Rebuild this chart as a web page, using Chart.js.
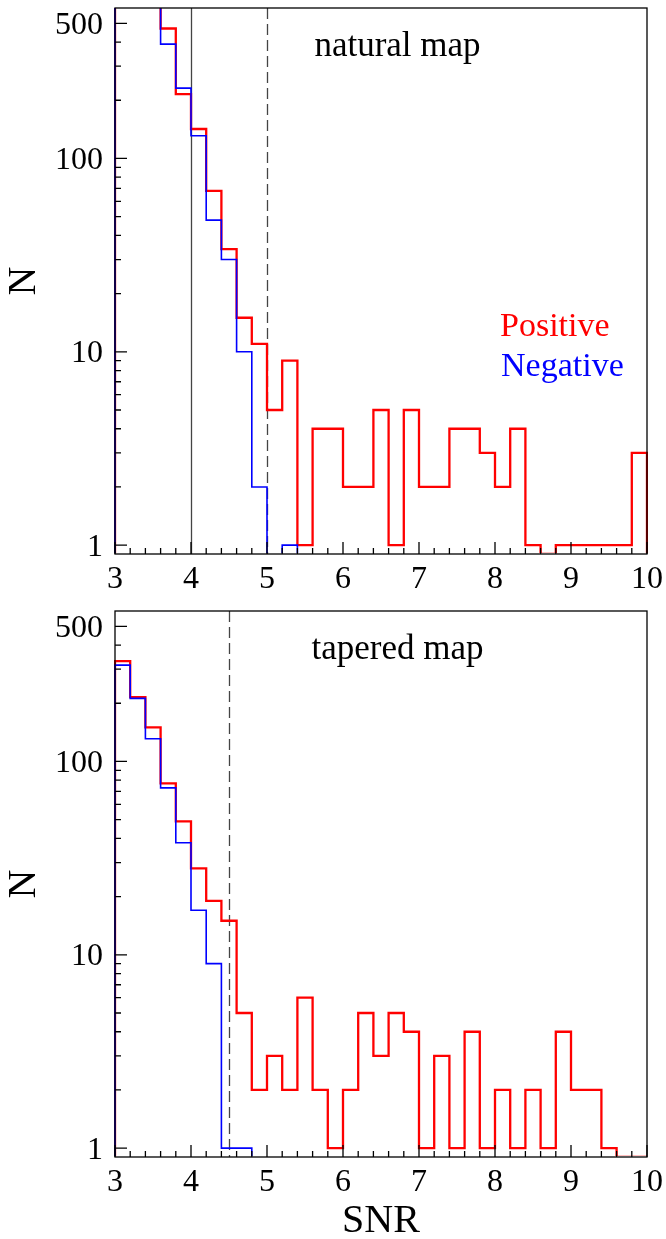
<!DOCTYPE html>
<html><head><meta charset="utf-8">
<script src="https://cdn.jsdelivr.net/npm/chart.js@4.4.1/dist/chart.umd.min.js"></script>
<style>
html,body{margin:0;padding:0;background:#fff;width:666px;height:1239px;overflow:hidden}
canvas{position:absolute;left:0}
#c1{top:0}
#c2{top:600px}
</style></head><body>
<canvas id="c1" width="666" height="600"></canvas>
<canvas id="c2" width="666" height="639"></canvas>
<script>
// ---- data ----
const binStart = 3.0;
const binWidth = 0.2;
const xTicks = [3, 4, 5, 6, 7, 8, 9, 10];
const yTicks = [1, 10, 100, 500];

// natural map, counts per 0.2 SNR bin from 3.0 to 10.0
const naturalPositive = [2600, 1700, 1000, 470, 215, 142, 68, 34, 15, 11,
                         5, 9, 1, 4, 4, 2, 2, 5, 1, 5,
                         2, 2, 4, 4, 3, 2, 4, 1, 0, 1,
                         1, 1, 1, 1, 3];
const naturalNegative = [2500, 1600, 900, 390, 231, 131, 48, 30, 10, 2,
                         0, 1, 0, 0, 0, 0, 0, 0, 0, 0,
                         0, 0, 0, 0, 0, 0, 0, 0, 0, 0,
                         0, 0, 0, 0, 0];
// tapered map
const taperedPositive = [330, 215, 150, 77, 49, 28, 19, 15, 5, 2,
                         3, 2, 6, 2, 1, 2, 5, 3, 5, 4,
                         1, 3, 1, 4, 1, 2, 1, 2, 1, 4,
                         2, 2, 1, 0, 0];
const taperedNegative = [315, 212, 131, 73, 38, 17, 9, 1, 1, 0,
                         0, 0, 0, 0, 0, 0, 0, 0, 0, 0,
                         0, 0, 0, 0, 0, 0, 0, 0, 0, 0,
                         0, 0, 0, 0, 0];
const naturalThresholds = [4, 5];
const taperedThresholds = [4.5];

// ---- helpers ----
function stepPoints(counts) {
  const pts = [{x: binStart, y: 0}];
  counts.forEach((c, i) => pts.push({x: binStart + i * binWidth, y: c}));
  const end = binStart + counts.length * binWidth;
  pts.push({x: end, y: counts[counts.length - 1]});
  pts.push({x: end, y: 0});
  return pts;
}

const SERIF = "'Liberation Serif', 'Times New Roman', serif";

function makeDecor(cfg) {
  return {
    id: 'decor',
    beforeDatasetsDraw(chart) {
      const {ctx, chartArea: a, scales: {x}} = chart;
      ctx.save();
      ctx.strokeStyle = '#444';
      ctx.lineWidth = 1.3;
      cfg.lines.forEach(l => {
        ctx.setLineDash(l.dashed ? [11, 5] : []);
        const px = Math.round(x.getPixelForValue(l.x)) + 0.5;
        ctx.beginPath();
        ctx.moveTo(px, a.top);
        ctx.lineTo(px, a.bottom);
        ctx.stroke();
      });
      ctx.restore();
    },
    afterDatasetsDraw(chart) {
      const {ctx, chartArea: a, scales: {x, y}} = chart;
      ctx.save();
      ctx.strokeStyle = '#000';
      ctx.lineWidth = 1.3;
      ctx.strokeRect(a.left, a.top, a.right - a.left, a.bottom - a.top);
      ctx.beginPath();
      // x ticks (inward)
      for (let i = 0; i < xTicks.length; i++) {
        const v = xTicks[i];
        const px = x.getPixelForValue(v);
        ctx.moveTo(px, a.bottom); ctx.lineTo(px, a.bottom - 12);
        if (i < xTicks.length - 1) {
          const step = (xTicks[i + 1] - v) / 5;
          for (let k = 1; k < 5; k++) {
            const pm = x.getPixelForValue(v + k * step);
            ctx.moveTo(pm, a.bottom); ctx.lineTo(pm, a.bottom - 6);
          }
        }
      }
      // y ticks (inward, log)
      for (let e = 0; e <= 2; e++) {
        for (let k = 1; k <= 9; k++) {
          const v = k * Math.pow(10, e);
          if (v < y.min || v >= y.max) continue;
          const py = y.getPixelForValue(v);
          const len = yTicks.includes(v) ? 12 : 6;
          ctx.moveTo(a.left, py); ctx.lineTo(a.left + len, py);
        }
      }
      ctx.stroke();
      ctx.restore();
    },
    afterDraw(chart) {
      const {ctx, chartArea: a} = chart;
      ctx.save();
      ctx.textBaseline = 'alphabetic';
      cfg.texts.forEach(t => {
        ctx.font = t.size + 'px ' + SERIF;
        ctx.fillStyle = t.color;
        ctx.textAlign = t.align;
        ctx.fillText(t.text, a.left + t.dx, a.top + t.dy);
      });
      ctx.restore();
    }
  };
}

function makeChart(id, pos, neg, cfg) {
  return new Chart(document.getElementById(id), {
    type: 'line',
    data: {
      datasets: [
        {label: 'Negative', data: stepPoints(neg), borderColor: '#0000ff', borderWidth: 1.6,
         stepped: 'before', pointRadius: 0, fill: false, order: 0,
         clip: {left: 1, top: 0, right: 1, bottom: -1}},
        {label: 'Positive', data: stepPoints(pos), borderColor: '#ff0000', borderWidth: 2.3,
         stepped: 'before', pointRadius: 0, fill: false, order: 1,
         clip: {left: 1, top: 0, right: 1, bottom: -1}}
      ]
    },
    options: {
      responsive: false,
      animation: false,
      devicePixelRatio: 1,
      parsing: false,
      layout: {padding: {top: cfg.padTop, right: 19, left: 0, bottom: 0}},
      plugins: {legend: {display: false}, tooltip: {enabled: false}},
      scales: {
        x: {
          type: 'linear', min: 3, max: 10, bounds: 'data',
          grid: {display: false, drawTicks: false},
          border: {display: false},
          afterBuildTicks: s => { s.ticks = xTicks.map(v => ({value: v})); },
          afterFit: s => { s.height = cfg.xHeight; s.paddingLeft = 0; s.paddingRight = 0; },
          ticks: {padding: 6, color: '#000', maxRotation: 0, autoSkip: false,
                  font: {family: SERIF, size: 32, lineHeight: 1.2},
                  callback: v => String(v)},
          title: {display: cfg.xTitle, text: 'SNR', color: '#000',
                  font: {family: SERIF, size: 40, lineHeight: 0.9},
                  padding: {top: 0, bottom: 0}}
        },
        y: {
          type: 'logarithmic', min: 0.9, max: 600, bounds: 'data',
          grid: {display: false, drawTicks: false},
          border: {display: false},
          afterBuildTicks: s => { s.ticks = yTicks.map(v => ({value: v})); },
          afterFit: s => { s.width = 115; s.paddingTop = 0; s.paddingBottom = 0; },
          ticks: {padding: 12, labelOffset: 2, color: '#000', autoSkip: false,
                  font: {family: SERIF, size: 32, lineHeight: 1.2},
                  callback: v => String(v)},
          title: {display: true, text: 'N', color: '#000',
                  font: {family: SERIF, size: 40, lineHeight: 1.2},
                  padding: {top: 0, bottom: 0}}
        }
      }
    },
    plugins: [makeDecor(cfg)]
  });
}

makeChart('c1', naturalPositive, naturalNegative, {
  padTop: 8, xHeight: 46, xTitle: false,
  lines: [{x: naturalThresholds[0], dashed: false}, {x: naturalThresholds[1], dashed: true}],
  texts: [
    {text: 'natural map', color: '#000', size: 35, align: 'center', dx: 282.5, dy: 48},
    {text: 'Positive', color: '#ff0000', size: 34, align: 'left', dx: 385, dy: 328},
    {text: 'Negative', color: '#0000ff', size: 34, align: 'left', dx: 386, dy: 368}
  ]
});

makeChart('c2', taperedPositive, taperedNegative, {
  padTop: 11, xHeight: 82, xTitle: true,
  lines: [{x: taperedThresholds[0], dashed: true}],
  texts: [
    {text: 'tapered map', color: '#000', size: 35, align: 'center', dx: 282.5, dy: 48}
  ]
});
</script>
</body></html>
